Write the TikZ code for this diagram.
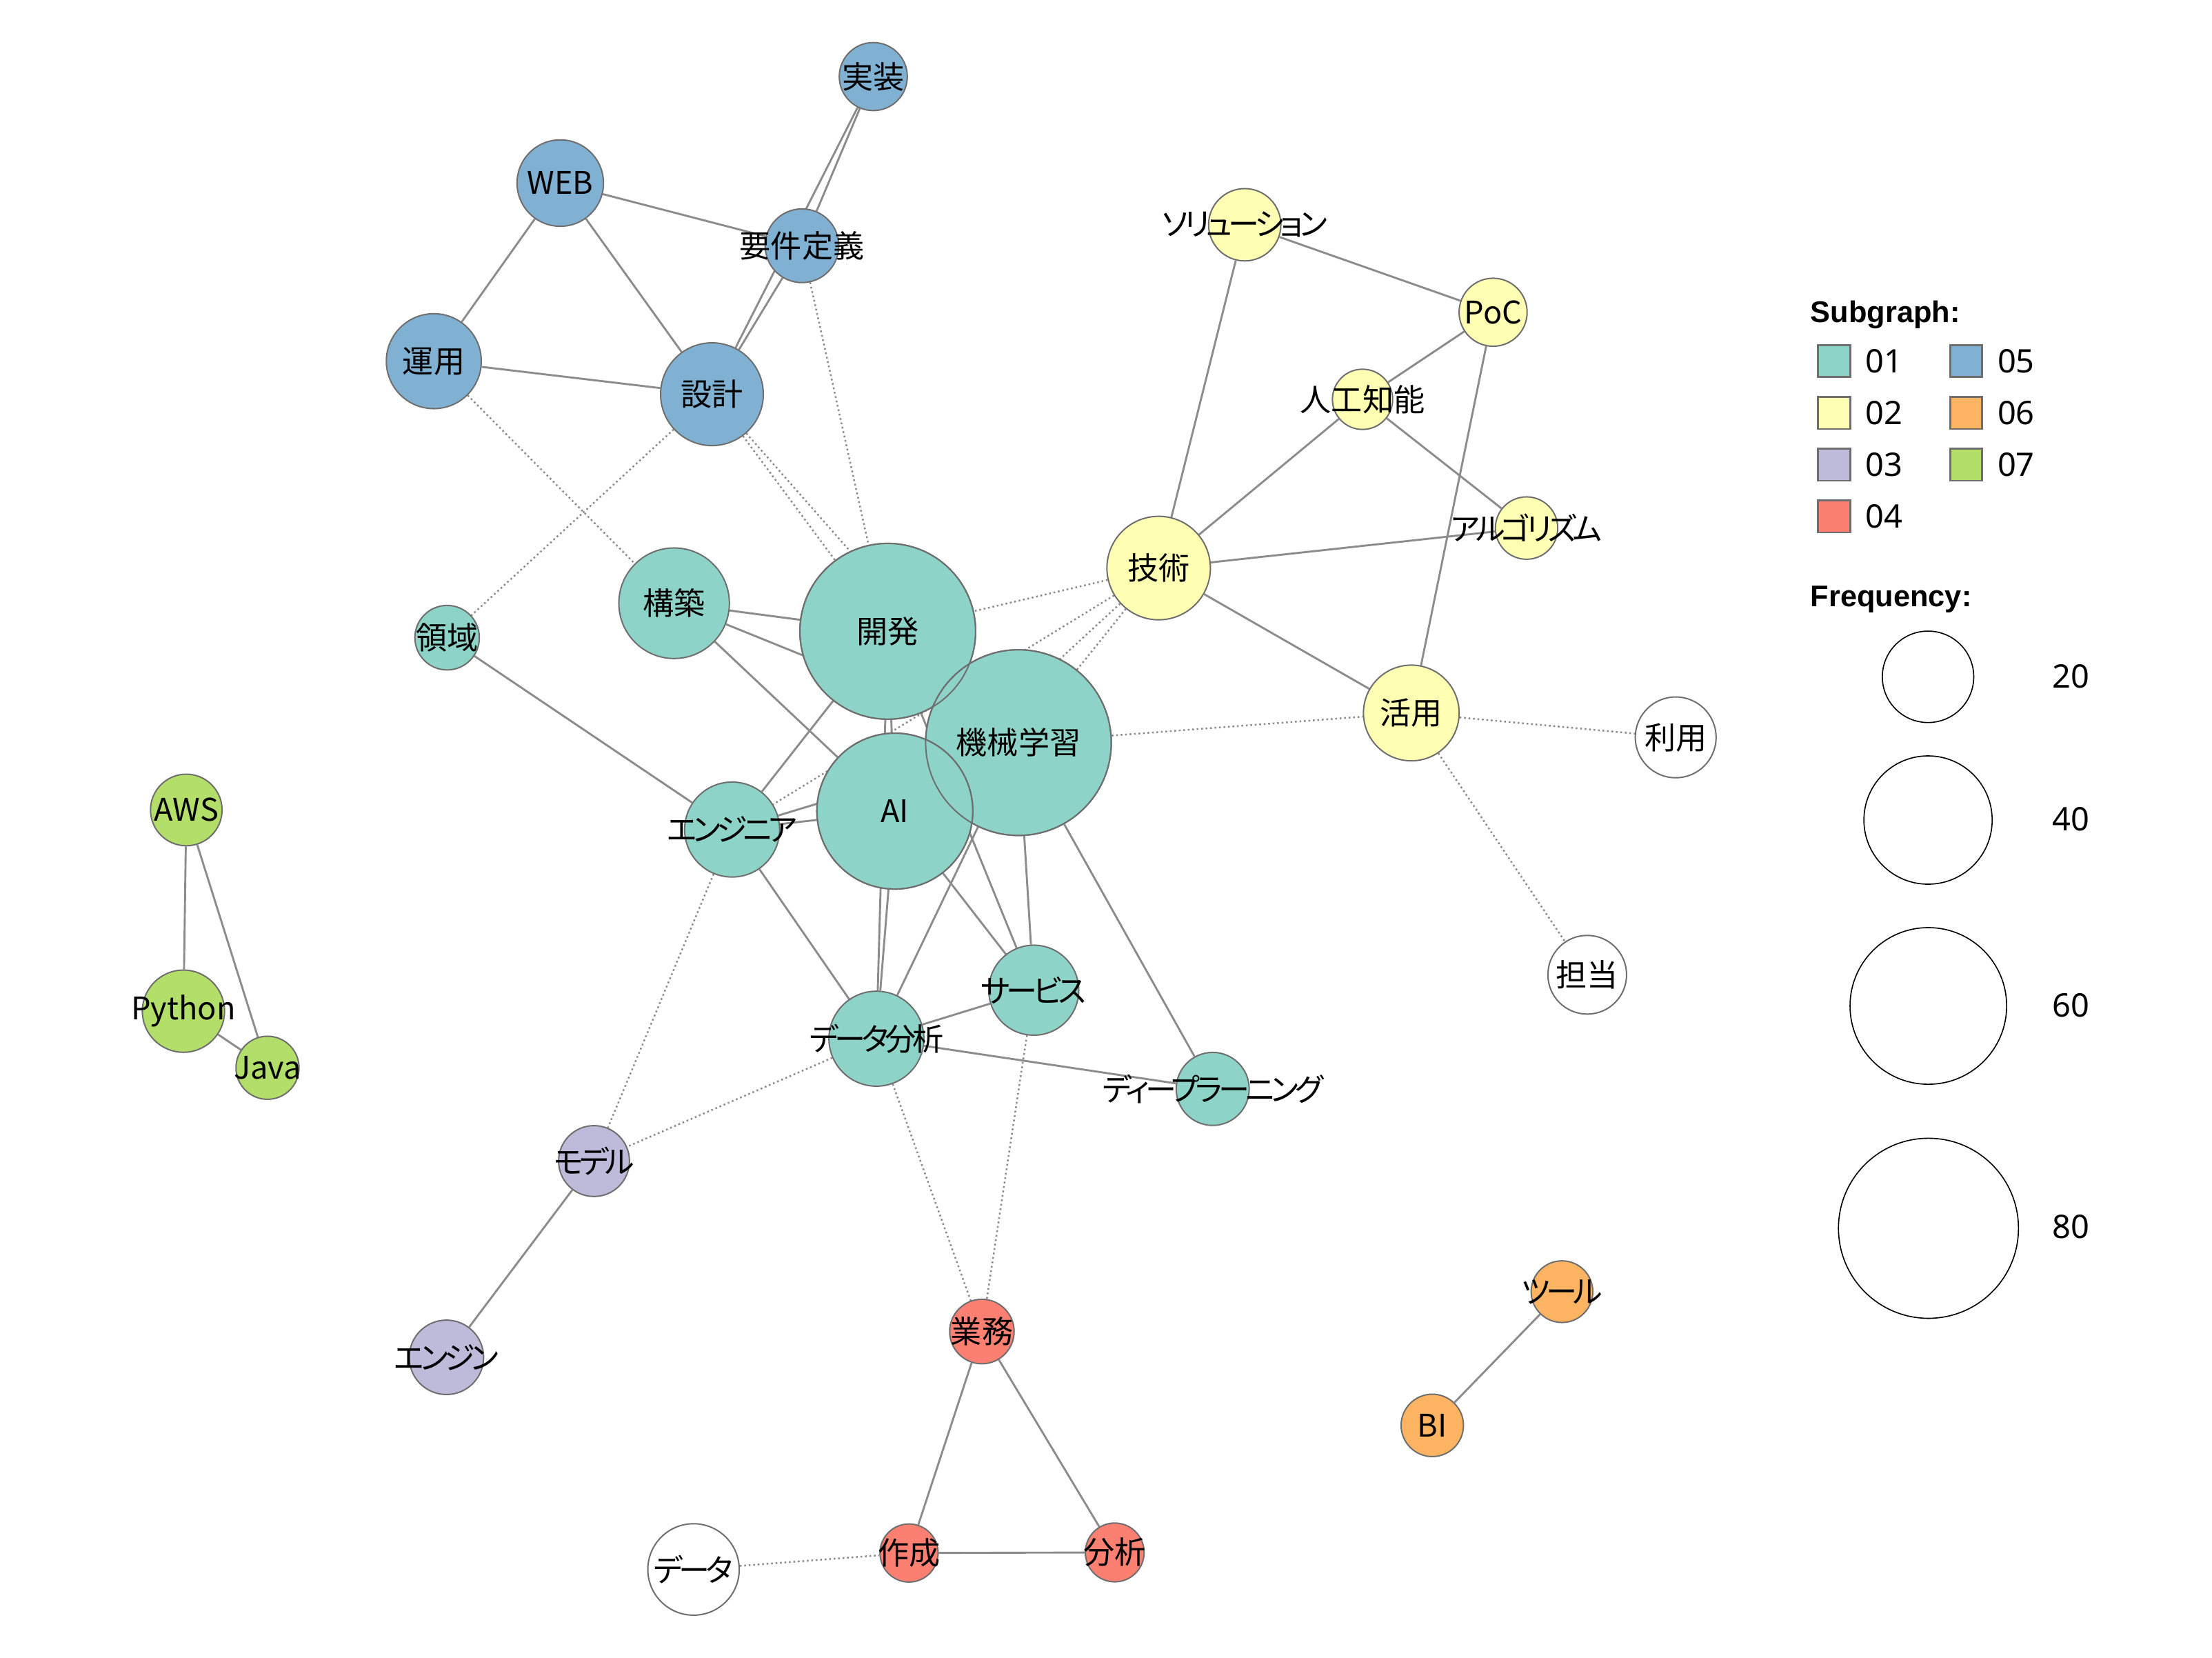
\documentclass[tikz,border=0pt]{standalone}
\usepackage{fontspec}
\setmainfont{Noto Sans}
\newfontfamily\jpfont[RawFeature=+palt]{Noto Sans CJK JP}
\newfontfamily\kanafont[RawFeature=+palt, LetterSpace=-12]{Noto Sans CJK JP}
\newfontfamily\headfont{Liberation Sans}
\usetikzlibrary{backgrounds,positioning}
\definecolor{c01}{HTML}{8DD3C7}
\definecolor{c02}{HTML}{FFFFB3}
\definecolor{c03}{HTML}{BEBADA}
\definecolor{c04}{HTML}{FB8072}
\definecolor{c05}{HTML}{80B1D3}
\definecolor{c06}{HTML}{FDB462}
\definecolor{c07}{HTML}{B3DE69}
\definecolor{rimgray}{HTML}{6E6E6E}
\definecolor{edgegray}{HTML}{8C8C8C}
\newcommand\kwsize{\fontsize{12.5pt}{15pt}\selectfont}
\tikzset{
    word/.style={
        circle,
        draw=rimgray,
        line width=0.55pt,
        inner sep=0pt,
    },
    sg1/.style={word, fill=c01},
    sg2/.style={word, fill=c02},
    sg3/.style={word, fill=c03},
    sg4/.style={word, fill=c04},
    sg5/.style={word, fill=c05},
    sg6/.style={word, fill=c06},
    sg7/.style={word, fill=c07},
    nosg/.style={word, fill=white},
    kana/.style={font=\kanafont\kwsize},
    cooc/.style={
        draw=edgegray,
        line width=0.8pt,
    },
    cross/.style={
        draw=edgegray,
        line width=0.7pt,
        dash pattern=on 0.7pt off 1.1pt,
    },
    rim/.style={
        draw=rimgray,
        line width=0.55pt,
    },
    keybox/.style={
        rectangle,
        draw=rimgray,
        line width=0.8pt,
        minimum width=0.45cm,
        minimum height=0.45cm,
        inner sep=0pt,
    },
    keytext/.style={
        font=\fontsize{13pt}{15pt}\selectfont,
        inner sep=0pt,
    },
    heading/.style={
        font=\headfont\bfseries\fontsize{12pt}{14pt}\selectfont,
        inner sep=0pt,
    },
    freq/.style={
        circle,
        draw=black,
        line width=0.45pt,
        inner sep=0pt,
    },
    every label/.style={font=\jpfont\kwsize, inner sep=0pt},
}
\begin{document}
\begin{tikzpicture}[x=0.02cm, y=-0.02cm]
    \useasboundingbox (0,0) rectangle (1560.3,1168.8);
    \node [sg5, minimum size=0.96cm, label=center:実装] (jisso) at (616,54) {};
    \node [sg5, minimum size=1.22cm, label=center:WEB] (web) at (395.2,129.1) {};
    \node [sg5, minimum size=1.04cm, label=center:要件定義] (yoken) at (565.7,173.3) {};
    \node [sg5, minimum size=1.34cm, label=center:運用] (unyo) at (306,254.7) {};
    \node [sg5, minimum size=1.45cm, label=center:設計] (sekkei) at (502.2,278) {};
    \node [sg2, minimum size=1.02cm, label={[kana]center:ソリューション}] (solution) at (878,158.5) {};
    \node [sg2, minimum size=0.96cm, label=center:PoC] (poc) at (1053.2,220.2) {};
    \node [sg2, minimum size=0.85cm, label=center:人工知能] (jinko) at (961.1,281.6) {};
    \node [sg2, minimum size=0.88cm, label={[kana]center:アルゴリズム}] (algo) at (1076.8,372.4) {};
    \node [sg2, minimum size=1.46cm, label=center:技術] (gijutsu) at (817.3,400.6) {};
    \node [sg2, minimum size=1.35cm, label=center:活用] (katsuyo) at (995.5,502.8) {};
    \node [nosg, minimum size=1.14cm, label=center:利用] (riyo) at (1182,520) {};
    \node [nosg, minimum size=1.11cm, label=center:担当] (tanto) at (1119.6,687.4) {};
    \node [sg1, minimum size=0.91cm, label=center:領域] (ryoiki) at (315.4,449.7) {};
    \node [sg1, minimum size=1.56cm, label=center:構築] (kochiku) at (475.5,425.4) {};
    \node [sg1, minimum size=2.48cm, label=center:開発] (kaihatsu) at (626.2,445.2) {};
    \node [sg1, minimum size=2.62cm, label=center:機械学習] (kikai) at (718.4,523.7) {};
    \node [sg1, minimum size=2.20cm, label=center:AI] (ai) at (631.2,572) {};
    \node [sg1, minimum size=1.34cm, label={[kana]center:エンジニア}] (engineer) at (516.4,585) {};
    \node [sg1, minimum size=1.27cm, label={[kana]center:サービス}] (service) at (729.2,698.3) {};
    \node [sg1, minimum size=1.34cm, label={[kana]center:データ分析}] (dataan) at (618.2,732.5) {};
    \node [sg1, minimum size=1.03cm, label={[kana]center:ディープラーニング}] (deep) at (855.4,767.9) {};
    \node [sg3, minimum size=1.00cm, label={[kana]center:モデル}] (model) at (419,818.8) {};
    \node [sg3, minimum size=1.05cm, label={[kana]center:エンジン}] (engine) at (314.9,957.2) {};
    \node [sg4, minimum size=0.91cm, label=center:業務] (gyomu) at (692.6,939) {};
    \node [sg4, minimum size=0.82cm, label=center:作成] (sakusei) at (641.2,1095.2) {};
    \node [sg4, minimum size=0.83cm, label=center:分析] (bunseki) at (786.3,1094.8) {};
    \node [nosg, minimum size=1.29cm, label={[kana]center:データ}] (data) at (489.2,1106.8) {};
    \node [sg7, minimum size=1.01cm, label=center:AWS] (aws) at (131.4,571.2) {};
    \node [sg7, minimum size=1.16cm, label=center:Python] (python) at (129.4,713.1) {};
    \node [sg7, minimum size=0.89cm, label=center:Java] (java) at (188.7,753) {};
    \node [sg6, minimum size=0.87cm, label={[kana]center:ツール}] (tool) at (1101.8,910.9) {};
    \node [sg6, minimum size=0.88cm, label=center:BI] (bi) at (1010.3,1005.2) {};
    \draw [rim] (kaihatsu.center) circle [radius=1.24cm];
    \draw [rim] (kikai.center) circle [radius=1.31cm];
    \draw [rim] (ai.center) circle [radius=1.10cm];
    \begin{scope}[on background layer]
        \fill [white] (0,0) rectangle (1560.3,1168.8);
        \draw [cooc] (web) -- (yoken);
        \draw [cooc] (web) -- (unyo);
        \draw [cooc] (web) -- (sekkei);
        \draw [cooc] (unyo) -- (sekkei);
        \draw [cooc] (jisso) -- (yoken);
        \draw [cooc] (jisso) -- (sekkei);
        \draw [cooc] (yoken) -- (sekkei);
        \draw [cooc] (solution) -- (poc);
        \draw [cooc] (solution) -- (gijutsu);
        \draw [cooc] (poc) -- (jinko);
        \draw [cooc] (poc) -- (katsuyo);
        \draw [cooc] (jinko) -- (gijutsu);
        \draw [cooc] (jinko) -- (algo);
        \draw [cooc] (gijutsu) -- (algo);
        \draw [cooc] (gijutsu) -- (katsuyo);
        \draw [cooc] (ryoiki) -- (engineer);
        \draw [cooc] (kochiku) -- (kaihatsu);
        \draw [cooc] (kochiku) -- (kikai);
        \draw [cooc] (kochiku) -- (ai);
        \draw [cooc] (kaihatsu) -- (engineer);
        \draw [cooc] (kaihatsu) -- (ai);
        \draw [cooc] (kaihatsu) -- (dataan);
        \draw [cooc] (kaihatsu) -- (service);
        \draw [cooc] (engineer) -- (ai);
        \draw [cooc] (engineer) -- (kikai);
        \draw [cooc] (engineer) -- (dataan);
        \draw [cooc] (ai) -- (dataan);
        \draw [cooc] (ai) -- (service);
        \draw [cooc] (kikai) -- (service);
        \draw [cooc] (kikai) -- (dataan);
        \draw [cooc] (kikai) -- (deep);
        \draw [cooc] (dataan) -- (service);
        \draw [cooc] (dataan) -- (deep);
        \draw [cooc] (model) -- (engine);
        \draw [cooc] (gyomu) -- (sakusei);
        \draw [cooc] (gyomu) -- (bunseki);
        \draw [cooc] (sakusei) -- (bunseki);
        \draw [cooc] (aws) -- (python);
        \draw [cooc] (aws) -- (java);
        \draw [cooc] (python) -- (java);
        \draw [cooc] (tool) -- (bi);
        \draw [cross] (yoken) -- (kaihatsu);
        \draw [cross] (sekkei) -- (kaihatsu);
        \draw [cross] (sekkei) -- (kikai);
        \draw [cross] (sekkei) -- (ryoiki);
        \draw [cross] (unyo) -- (kochiku);
        \draw [cross] (gijutsu) -- (kaihatsu);
        \draw [cross] (gijutsu) -- (kikai);
        \draw [cross] (gijutsu) -- (ai);
        \draw [cross] (gijutsu) -- (engineer);
        \draw [cross] (kikai) -- (katsuyo);
        \draw [cross] (katsuyo) -- (riyo);
        \draw [cross] (katsuyo) -- (tanto);
        \draw [cross] (engineer) -- (model);
        \draw [cross] (dataan) -- (model);
        \draw [cross] (dataan) -- (gyomu);
        \draw [cross] (service) -- (gyomu);
        \draw [cross] (data) -- (sakusei);
    \end{scope}
    \node [heading, anchor=base west] (subhead) at (1276.8,227.3) {Subgraph:};
    \node [keybox, fill=c01] (k01) at (1293.75,254.75) {};
    \node [keybox, fill=c02] (k02) at (1293.75,291.25) {};
    \node [keybox, fill=c03] (k03) at (1293.75,327.75) {};
    \node [keybox, fill=c04] (k04) at (1293.75,364.25) {};
    \node [keybox, fill=c05] (k05) at (1386.75,254.75) {};
    \node [keybox, fill=c06] (k06) at (1386.75,291.25) {};
    \node [keybox, fill=c07] (k07) at (1386.75,327.75) {};
    \node [keytext, right=0.2cm of k01] {01};
    \node [keytext, right=0.2cm of k02] {02};
    \node [keytext, right=0.2cm of k03] {03};
    \node [keytext, right=0.2cm of k04] {04};
    \node [keytext, right=0.2cm of k05] {05};
    \node [keytext, right=0.2cm of k06] {06};
    \node [keytext, right=0.2cm of k07] {07};
    \node [heading, anchor=base west] (freqhead) at (1276.8,427.7) {Frequency:};
    \node [freq, minimum size=1.29cm] (f20) at (1360,477.3) {};
    \node [freq, minimum size=1.81cm] (f40) at (1360,578.3) {};
    \node [freq, minimum size=2.21cm] (f60) at (1360.2,709.4) {};
    \node [freq, minimum size=2.54cm] (f80) at (1360.3,866.2) {};
    \node [keytext] (l20) at (1460.9,476.8) {20};
    \node [keytext] (l40) at (1460.9,577.8) {40};
    \node [keytext] (l60) at (1460.9,709) {60};
    \node [keytext] (l80) at (1460.9,865.3) {80};
\end{tikzpicture}
\end{document}
